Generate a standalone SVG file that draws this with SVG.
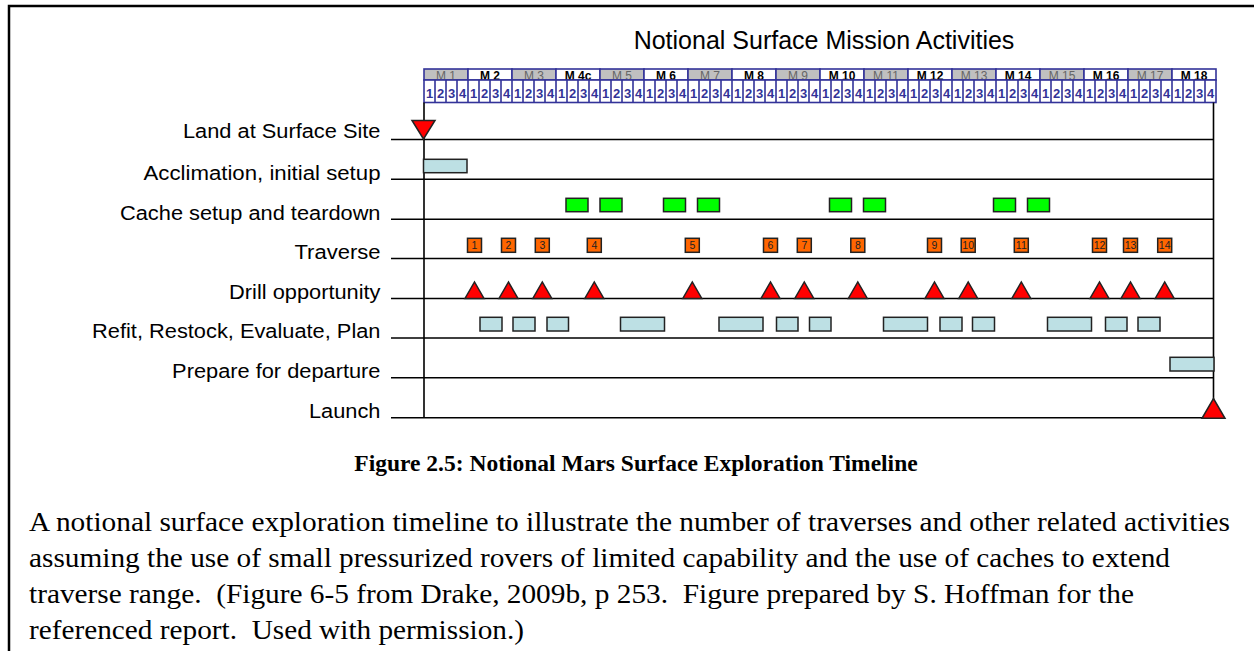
<svg xmlns="http://www.w3.org/2000/svg" width="1254" height="651" viewBox="0 0 1254 651">
<style>
.lbl{font-family:"Liberation Sans",Arial,sans-serif;font-size:20px;fill:#000;text-anchor:end}
.ttl{font-family:"Liberation Sans",Arial,sans-serif;font-size:25px;fill:#000;text-anchor:middle}
.mo{font-family:"Liberation Sans",Arial,sans-serif;font-size:12px;text-anchor:middle}
.mo-o{fill:#666;font-weight:normal}
.mo-e{fill:#000;font-weight:bold}
.wk{font-family:"Liberation Sans",Arial,sans-serif;font-size:13px;font-weight:bold;fill:#333399;text-anchor:middle}
.hc{stroke:#333399;stroke-width:1.6}
.grid{stroke:#000;stroke-width:1.6;fill:none}
.bar{fill:#bde0e4;stroke:#222;stroke-width:1.5}
.grn{fill:#00ff00;stroke:#222;stroke-width:1.5}
.trv{fill:#ff6600;stroke:#222;stroke-width:1.5}
.tn{font-family:"Liberation Sans",Arial,sans-serif;font-size:10.5px;fill:#222;text-anchor:middle}
.tri{fill:#ff0000;stroke:#222;stroke-width:1.5;stroke-linejoin:miter}
.cap{font-family:"Liberation Serif","Times New Roman",serif;font-size:23.5px;font-weight:bold;text-anchor:middle;fill:#000}
.par{font-family:"Liberation Serif","Times New Roman",serif;font-size:27px;fill:#000}
</style>
<rect width="1254" height="651" fill="#fff"/>
<path d="M9 660V6H1260" fill="none" stroke="#000" stroke-width="2.5"/>

<g id="title"><text class="ttl" x="824" y="49">Notional Surface Mission Activities</text></g>

<g id="header">
<g id="months">
<rect class="hc" x="424" y="69" width="44" height="11" fill="#c0c0c0"/>
<rect class="hc" x="468" y="69" width="44" height="11" fill="#fff"/>
<rect class="hc" x="512" y="69" width="44" height="11" fill="#c0c0c0"/>
<rect class="hc" x="556" y="69" width="44" height="11" fill="#fff"/>
<rect class="hc" x="600" y="69" width="44" height="11" fill="#c0c0c0"/>
<rect class="hc" x="644" y="69" width="44" height="11" fill="#fff"/>
<rect class="hc" x="688" y="69" width="44" height="11" fill="#c0c0c0"/>
<rect class="hc" x="732" y="69" width="44" height="11" fill="#fff"/>
<rect class="hc" x="776" y="69" width="44" height="11" fill="#c0c0c0"/>
<rect class="hc" x="820" y="69" width="44" height="11" fill="#fff"/>
<rect class="hc" x="864" y="69" width="44" height="11" fill="#c0c0c0"/>
<rect class="hc" x="908" y="69" width="44" height="11" fill="#fff"/>
<rect class="hc" x="952" y="69" width="44" height="11" fill="#c0c0c0"/>
<rect class="hc" x="996" y="69" width="44" height="11" fill="#fff"/>
<rect class="hc" x="1040" y="69" width="44" height="11" fill="#c0c0c0"/>
<rect class="hc" x="1084" y="69" width="44" height="11" fill="#fff"/>
<rect class="hc" x="1128" y="69" width="44" height="11" fill="#c0c0c0"/>
<rect class="hc" x="1172" y="69" width="44" height="11" fill="#fff"/>
<text class="mo mo-o" x="446" y="79.8">M 1</text>
<text class="mo mo-e" x="490" y="79.8">M 2</text>
<text class="mo mo-o" x="534" y="79.8">M 3</text>
<text class="mo mo-e" x="578" y="79.8">M 4c</text>
<text class="mo mo-o" x="622" y="79.8">M 5</text>
<text class="mo mo-e" x="666" y="79.8">M 6</text>
<text class="mo mo-o" x="710" y="79.8">M 7</text>
<text class="mo mo-e" x="754" y="79.8">M 8</text>
<text class="mo mo-o" x="798" y="79.8">M 9</text>
<text class="mo mo-e" x="842" y="79.8">M 10</text>
<text class="mo mo-o" x="886" y="79.8">M 11</text>
<text class="mo mo-e" x="930" y="79.8">M 12</text>
<text class="mo mo-o" x="974" y="79.8">M 13</text>
<text class="mo mo-e" x="1018" y="79.8">M 14</text>
<text class="mo mo-o" x="1062" y="79.8">M 15</text>
<text class="mo mo-e" x="1106" y="79.8">M 16</text>
<text class="mo mo-o" x="1150" y="79.8">M 17</text>
<text class="mo mo-e" x="1194" y="79.8">M 18</text>
</g>
<g id="weeks">
<rect class="hc" x="424" y="80" width="792" height="22.5" fill="#fff"/>
<path class="hc" fill="none" d="M435 80v22.5M446 80v22.5M457 80v22.5M468 80v22.5M479 80v22.5M490 80v22.5M501 80v22.5M512 80v22.5M523 80v22.5M534 80v22.5M545 80v22.5M556 80v22.5M567 80v22.5M578 80v22.5M589 80v22.5M600 80v22.5M611 80v22.5M622 80v22.5M633 80v22.5M644 80v22.5M655 80v22.5M666 80v22.5M677 80v22.5M688 80v22.5M699 80v22.5M710 80v22.5M721 80v22.5M732 80v22.5M743 80v22.5M754 80v22.5M765 80v22.5M776 80v22.5M787 80v22.5M798 80v22.5M809 80v22.5M820 80v22.5M831 80v22.5M842 80v22.5M853 80v22.5M864 80v22.5M875 80v22.5M886 80v22.5M897 80v22.5M908 80v22.5M919 80v22.5M930 80v22.5M941 80v22.5M952 80v22.5M963 80v22.5M974 80v22.5M985 80v22.5M996 80v22.5M1007 80v22.5M1018 80v22.5M1029 80v22.5M1040 80v22.5M1051 80v22.5M1062 80v22.5M1073 80v22.5M1084 80v22.5M1095 80v22.5M1106 80v22.5M1117 80v22.5M1128 80v22.5M1139 80v22.5M1150 80v22.5M1161 80v22.5M1172 80v22.5M1183 80v22.5M1194 80v22.5M1205 80v22.5"/>
<text class="wk" x="429.5 440.5 451.5 462.5" y="97.5">1234</text>
<text class="wk" x="473.5 484.5 495.5 506.5" y="97.5">1234</text>
<text class="wk" x="517.5 528.5 539.5 550.5" y="97.5">1234</text>
<text class="wk" x="561.5 572.5 583.5 594.5" y="97.5">1234</text>
<text class="wk" x="605.5 616.5 627.5 638.5" y="97.5">1234</text>
<text class="wk" x="649.5 660.5 671.5 682.5" y="97.5">1234</text>
<text class="wk" x="693.5 704.5 715.5 726.5" y="97.5">1234</text>
<text class="wk" x="737.5 748.5 759.5 770.5" y="97.5">1234</text>
<text class="wk" x="781.5 792.5 803.5 814.5" y="97.5">1234</text>
<text class="wk" x="825.5 836.5 847.5 858.5" y="97.5">1234</text>
<text class="wk" x="869.5 880.5 891.5 902.5" y="97.5">1234</text>
<text class="wk" x="913.5 924.5 935.5 946.5" y="97.5">1234</text>
<text class="wk" x="957.5 968.5 979.5 990.5" y="97.5">1234</text>
<text class="wk" x="1001.5 1012.5 1023.5 1034.5" y="97.5">1234</text>
<text class="wk" x="1045.5 1056.5 1067.5 1078.5" y="97.5">1234</text>
<text class="wk" x="1089.5 1100.5 1111.5 1122.5" y="97.5">1234</text>
<text class="wk" x="1133.5 1144.5 1155.5 1166.5" y="97.5">1234</text>
<text class="wk" x="1177.5 1188.5 1199.5 1210.5" y="97.5">1234</text>
</g>
</g>

<g id="connectors">
<path class="grid" d="M424 102.5V417.7M1213.5 102.5V417.7"/>
<path class="grid" d="M391 139.5H1213.5M391 179.3H1213.5M391 219.3H1213.5M391 258.5H1213.5M391 298.5H1213.5M391 338H1213.5M391 377.8H1213.5M391 417.7H1213.5"/>
</g>

<g id="labels">
<text class="lbl" x="380.5" y="138" textLength="197.5" lengthAdjust="spacingAndGlyphs">Land at Surface Site</text>
<text class="lbl" x="380.5" y="180" textLength="237" lengthAdjust="spacingAndGlyphs">Acclimation, initial setup</text>
<text class="lbl" x="380.5" y="219.5" textLength="260.5" lengthAdjust="spacingAndGlyphs">Cache setup and teardown</text>
<text class="lbl" x="380.5" y="259" textLength="86" lengthAdjust="spacingAndGlyphs">Traverse</text>
<text class="lbl" x="380.5" y="298.5" textLength="151.4" lengthAdjust="spacingAndGlyphs">Drill opportunity</text>
<text class="lbl" x="380.5" y="338" textLength="288.4" lengthAdjust="spacingAndGlyphs">Refit, Restock, Evaluate, Plan</text>
<text class="lbl" x="380.5" y="378" textLength="208.4" lengthAdjust="spacingAndGlyphs">Prepare for departure</text>
<text class="lbl" x="380.5" y="417.5" textLength="71.5" lengthAdjust="spacingAndGlyphs">Launch</text>
</g>

<g id="land"><polygon class="tri" points="412,120.5 435,120.5 423.5,139"/></g>
<g id="acclimation"><rect class="bar" x="423.5" y="159.3" width="43.5" height="13.4"/></g>

<g id="cache">
<rect class="grn" x="566" y="198.3" width="22" height="13.4"/>
<rect class="grn" x="600" y="198.3" width="22" height="13.4"/>
<rect class="grn" x="663.5" y="198.3" width="22" height="13.4"/>
<rect class="grn" x="697.5" y="198.3" width="22" height="13.4"/>
<rect class="grn" x="829.5" y="198.3" width="22" height="13.4"/>
<rect class="grn" x="863.5" y="198.3" width="22" height="13.4"/>
<rect class="grn" x="993.5" y="198.3" width="22" height="13.4"/>
<rect class="grn" x="1027.5" y="198.3" width="22" height="13.4"/>
</g>

<g id="traverse">
<rect class="trv" x="467.5" y="238.3" width="14" height="14"/><text class="tn" x="474.5" y="249.3">1</text>
<rect class="trv" x="501.5" y="238.3" width="14" height="14"/><text class="tn" x="508.5" y="249.3">2</text>
<rect class="trv" x="535.3" y="238.3" width="14" height="14"/><text class="tn" x="542.3" y="249.3">3</text>
<rect class="trv" x="587.3" y="238.3" width="14" height="14"/><text class="tn" x="594.3" y="249.3">4</text>
<rect class="trv" x="685.3" y="238.3" width="14" height="14"/><text class="tn" x="692.3" y="249.3">5</text>
<rect class="trv" x="763.5" y="238.3" width="14" height="14"/><text class="tn" x="770.5" y="249.3">6</text>
<rect class="trv" x="797.3" y="238.3" width="14" height="14"/><text class="tn" x="804.3" y="249.3">7</text>
<rect class="trv" x="850.8" y="238.3" width="14" height="14"/><text class="tn" x="857.8" y="249.3">8</text>
<rect class="trv" x="927.5" y="238.3" width="14" height="14"/><text class="tn" x="934.5" y="249.3">9</text>
<rect class="trv" x="961.2" y="238.3" width="14" height="14"/><text class="tn" x="968.2" y="249.3">10</text>
<rect class="trv" x="1014.3" y="238.3" width="14" height="14"/><text class="tn" x="1021.3" y="249.3">11</text>
<rect class="trv" x="1092.5" y="238.3" width="14" height="14"/><text class="tn" x="1099.5" y="249.3">12</text>
<rect class="trv" x="1123.5" y="238.3" width="14" height="14"/><text class="tn" x="1130.5" y="249.3">13</text>
<rect class="trv" x="1157.7" y="238.3" width="14" height="14"/><text class="tn" x="1164.7" y="249.3">14</text>
</g>

<g id="drill">
<polygon class="tri" points="465,298.5 484,298.5 474.5,282"/>
<polygon class="tri" points="499,298.5 518,298.5 508.5,282"/>
<polygon class="tri" points="532.8,298.5 551.8,298.5 542.3,282"/>
<polygon class="tri" points="584.8,298.5 603.8,298.5 594.3,282"/>
<polygon class="tri" points="682.8,298.5 701.8,298.5 692.3,282"/>
<polygon class="tri" points="761,298.5 780,298.5 770.5,282"/>
<polygon class="tri" points="794.8,298.5 813.8,298.5 804.3,282"/>
<polygon class="tri" points="848.3,298.5 867.3,298.5 857.8,282"/>
<polygon class="tri" points="925,298.5 944,298.5 934.5,282"/>
<polygon class="tri" points="958.7,298.5 977.7,298.5 968.2,282"/>
<polygon class="tri" points="1011.8,298.5 1030.8,298.5 1021.3,282"/>
<polygon class="tri" points="1090,298.5 1109,298.5 1099.5,282"/>
<polygon class="tri" points="1121,298.5 1140,298.5 1130.5,282"/>
<polygon class="tri" points="1155.2,298.5 1174.2,298.5 1164.7,282"/>
</g>

<g id="refit">
<rect class="bar" x="480" y="317.3" width="22" height="13.7"/>
<rect class="bar" x="513" y="317.3" width="22" height="13.7"/>
<rect class="bar" x="547" y="317.3" width="21.5" height="13.7"/>
<rect class="bar" x="620.5" y="317.3" width="44" height="13.7"/>
<rect class="bar" x="719" y="317.3" width="44" height="13.7"/>
<rect class="bar" x="776.5" y="317.3" width="21.5" height="13.7"/>
<rect class="bar" x="809.5" y="317.3" width="21.5" height="13.7"/>
<rect class="bar" x="883.5" y="317.3" width="44" height="13.7"/>
<rect class="bar" x="940" y="317.3" width="22" height="13.7"/>
<rect class="bar" x="972.5" y="317.3" width="22" height="13.7"/>
<rect class="bar" x="1047.5" y="317.3" width="44" height="13.7"/>
<rect class="bar" x="1105.5" y="317.3" width="21.5" height="13.7"/>
<rect class="bar" x="1138" y="317.3" width="22" height="13.7"/>
</g>

<g id="departure"><rect class="bar" x="1170" y="357.3" width="44" height="13.7"/></g>
<g id="launch"><polygon class="tri" points="1202,418.3 1225,418.3 1213.5,398.5"/></g>

<g id="caption"><text class="cap" x="636" y="471">Figure 2.5: Notional Mars Surface Exploration Timeline</text></g>

<g id="description">
<text class="par" x="29" y="531" textLength="1201" lengthAdjust="spacingAndGlyphs">A notional surface exploration timeline to illustrate the number of traverses and other related activities</text>
<text class="par" x="29" y="567" textLength="1141" lengthAdjust="spacingAndGlyphs">assuming the use of small pressurized rovers of limited capability and the use of caches to extend</text>
<text class="par" x="29" y="603" xml:space="preserve" textLength="1105" lengthAdjust="spacingAndGlyphs">traverse range.  (Figure 6-5 from Drake, 2009b, p 253.  Figure prepared by S. Hoffman for the</text>
<text class="par" x="29" y="639" xml:space="preserve" textLength="495" lengthAdjust="spacingAndGlyphs">referenced report.  Used with permission.)</text>
</g>
</svg>
